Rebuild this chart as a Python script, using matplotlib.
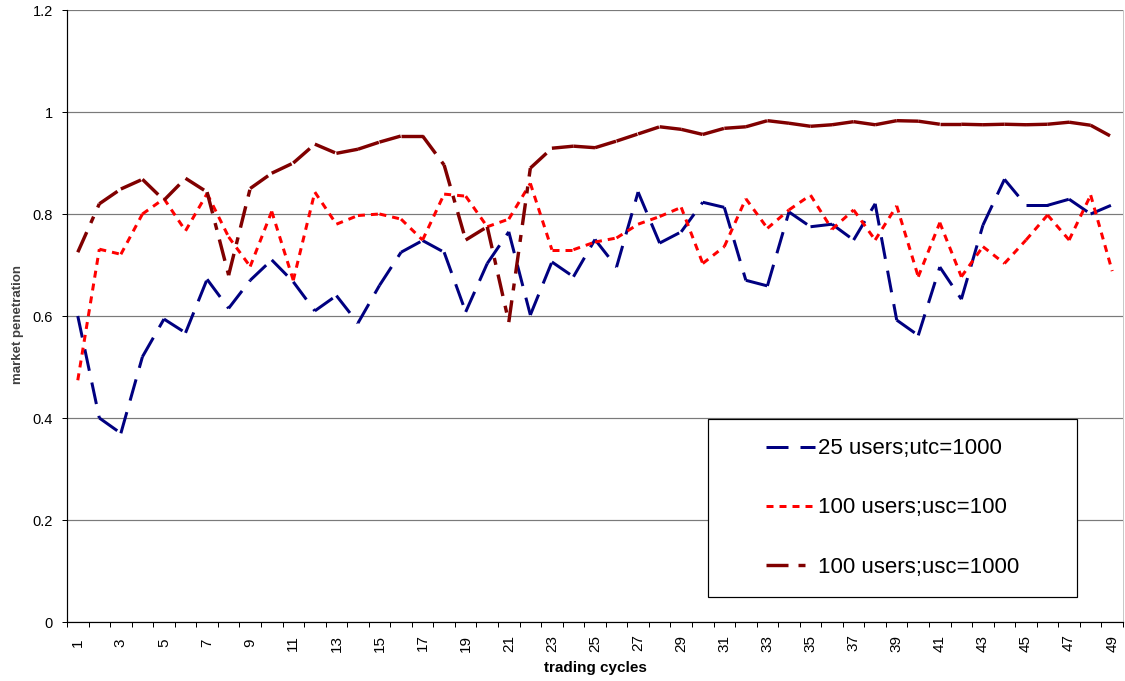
import matplotlib
matplotlib.use("Agg")
import matplotlib.pyplot as plt
from matplotlib.lines import Line2D
from matplotlib.patches import Rectangle
from matplotlib.ticker import FixedLocator

# ---- data -------------------------------------------------------------
cycles = list(range(1, 50))
tick_labels = [str(c) if c % 2 == 1 else "" for c in cycles]

users25_utc1000 = [0.60, 0.40, 0.37, 0.52, 0.594, 0.567, 0.672, 0.615, 0.67, 0.71,
                   0.667, 0.61, 0.64, 0.586, 0.66, 0.725, 0.748, 0.725, 0.608, 0.703,
                   0.765, 0.602, 0.706, 0.677, 0.75, 0.696, 0.843, 0.743, 0.765, 0.823,
                   0.813, 0.67, 0.659, 0.804, 0.775, 0.78, 0.749, 0.82, 0.592, 0.562,
                   0.696, 0.633, 0.778, 0.868, 0.817, 0.817, 0.829, 0.80, 0.818]

users100_usc100 = [0.474, 0.731, 0.721, 0.80, 0.83, 0.767, 0.84, 0.755, 0.697, 0.805,
                   0.67, 0.843, 0.78, 0.797, 0.80, 0.79, 0.749, 0.839, 0.835, 0.775,
                   0.79, 0.86, 0.73, 0.73, 0.745, 0.753, 0.78, 0.795, 0.813, 0.703,
                   0.736, 0.83, 0.772, 0.808, 0.837, 0.77, 0.808, 0.749, 0.816, 0.677,
                   0.783, 0.677, 0.736, 0.703, 0.749, 0.798, 0.749, 0.837, 0.688]

users100_usc1000 = [0.725, 0.82, 0.849, 0.868, 0.827, 0.87, 0.843, 0.68, 0.85, 0.88,
                    0.90, 0.937, 0.919, 0.927, 0.941, 0.953, 0.953, 0.896, 0.749, 0.775,
                    0.588, 0.89, 0.929, 0.933, 0.93, 0.943, 0.957, 0.971, 0.966, 0.956,
                    0.968, 0.971, 0.983, 0.978, 0.972, 0.975, 0.981, 0.975, 0.983, 0.982,
                    0.976, 0.976, 0.975, 0.976, 0.975, 0.976, 0.98, 0.974, 0.951]

series_names = ["25 users;utc=1000", "100 users;usc=100", "100 users;usc=1000"]

# ---- styling ------------------------------------------------------------
PX = 0.72  # points per pixel at 100 dpi
plt.rcParams["lines.scale_dashes"] = False
plt.rcParams["font.family"] = ["Liberation Sans", "DejaVu Sans"]

styles = [
    dict(color="#000080", lw=3.0 * PX, dashes=(22 * PX, 12 * PX)),
    dict(color="#FF0000", lw=3.0 * PX, dashes=(7 * PX, 6 * PX)),
    dict(color="#800000", lw=3.4 * PX, dashes=(22 * PX, 10 * PX, 7 * PX, 10 * PX)),
]

fig = plt.figure(figsize=(11.25, 6.81), dpi=100)
ax = fig.add_axes([67 / 1125, 1 - 622 / 681, (1123 - 67) / 1125, (622 - 10) / 681])

# each segment restarts its dash pattern
for values, st in zip([users25_utc1000, users100_usc100, users100_usc1000], styles):
    for k in range(len(cycles) - 1):
        ax.plot(cycles[k:k + 2], values[k:k + 2], color=st["color"], lw=st["lw"],
                dashes=st["dashes"], dash_capstyle="butt", solid_capstyle="butt",
                zorder=3)

ax.set_xlim(0.5, 49.5)
ax.set_ylim(0, 1.2)

# y axis
ax.set_yticks([0, 0.2, 0.4, 0.6, 0.8, 1.0, 1.2])
ax.set_yticklabels(["0", "0.2", "0.4", "0.6", "0.8", "1", "1.2"])
ax.tick_params(axis="y", direction="out", length=5 * PX, width=1 * PX,
               pad=9 * PX, labelsize=10.5, colors="black")
ax.grid(axis="y", color="#7a7a7a", lw=1.2 * PX, zorder=1)
ax.set_axisbelow(True)

# x axis: labels at category centres, tick marks on category boundaries
ax.xaxis.set_major_locator(FixedLocator(cycles))
ax.set_xticklabels(tick_labels, rotation=90, va="center", ha="center",
                   family=["Liberation Sans Narrow", "Liberation Sans"], fontsize=11)
ax.tick_params(axis="x", which="major", length=0, pad=21 * PX)
ax.xaxis.set_minor_locator(FixedLocator([c + 0.5 for c in range(0, 50)]))
ax.tick_params(axis="x", which="minor", direction="out", length=5 * PX, width=1 * PX)

for side in ("left", "bottom"):
    ax.spines[side].set_color("black")
    ax.spines[side].set_linewidth(1.2 * PX)
ax.spines["top"].set_visible(False)
ax.spines["right"].set_color("#c8c8c8")
ax.spines["right"].set_linewidth(1 * PX)

ax.set_ylabel("market penetration", fontsize=9.5, fontweight="bold", color="#404040",
              labelpad=0)
ax.yaxis.set_label_coords(-43 / 1056, (622 - 325) / 612)
ax.set_xlabel("trading cycles", fontsize=11, fontweight="bold")
ax.xaxis.label.set_va("center")
ax.xaxis.set_label_coords((595 - 67) / 1056, -(668 - 622) / 612)

# legend box with white fill
box = Rectangle((708 / 1125, 1 - 597 / 681), 369 / 1125, 178 / 681,
                transform=fig.transFigure, facecolor="white", edgecolor="black",
                lw=1.2 * PX, zorder=4)
ax.add_patch(box)
box.set_clip_on(False)

handles = [Line2D([0], [0], color=st["color"], lw=st["lw"], dashes=st["dashes"],
                  dash_capstyle="butt") for st in styles]
leg = ax.legend(handles, series_names, loc="center left",
                bbox_to_anchor=(766 / 1125, 1 - 508 / 681),
                bbox_transform=fig.transFigure, frameon=False, fontsize=16,
                handlelength=2.2, handletextpad=0.15, labelspacing=1.72,
                borderpad=0, borderaxespad=0)
leg.set_zorder(5)

fig.savefig("out.png", dpi=100, facecolor="white")
